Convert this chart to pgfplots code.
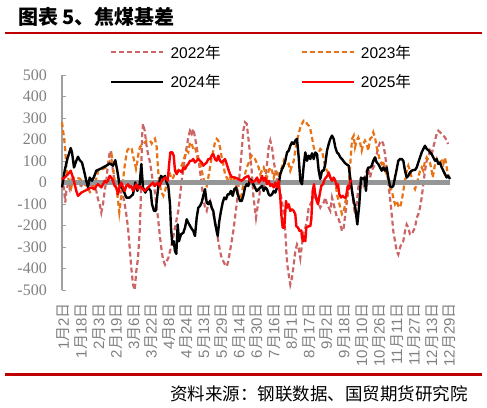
\documentclass[border=0pt]{standalone}
\usepackage{pgfplots}
\pgfplotsset{compat=1.18}
\usepackage{fontspec}
\setmainfont{Liberation Sans}
\newfontfamily\cjk{Noto Sans CJK SC}
\newfontfamily\serifnum{Liberation Serif}
\definecolor{c22}{RGB}{204,102,102}
\definecolor{c23}{RGB}{232,114,20}
\definecolor{titlered}{RGB}{192,0,0}
\definecolor{zgray}{RGB}{150,150,150}
\definecolor{axgray}{RGB}{160,160,160}
\definecolor{labgray}{RGB}{128,128,128}
\newcommand{\md}[2]{#1{\cjk 月}#2{\cjk 日}}
\begin{document}
\begin{tikzpicture}
\path[use as bounding box] (0pt,0pt) rectangle (487pt,-407pt);
\node[anchor=west,inner sep=0pt,font=\cjk\bfseries\fontsize{20}{22}\selectfont] at (18pt,-16.7pt) {图表 5、焦煤基差};
\draw[titlered,line width=2.3pt] (5pt,-33.3pt) -- (482pt,-33.3pt);
\draw[titlered,line width=2.5pt] (5pt,-374.7pt) -- (482pt,-374.7pt);
\node[anchor=east,inner sep=0pt,font=\cjk\fontsize{17.5}{20}\selectfont] at (468pt,-394pt) {资料来源：钢联数据、国贸期货研究院};
\begin{axis}[
  at={(62pt,-290pt)}, anchor=south west,
  scale only axis, width=390pt, height=215pt,
  xmin=62, xmax=452, ymin=-500, ymax=500,
  clip=false,
  axis x line=bottom, axis y line=left,
  x axis line style={draw=none},
  y axis line style={-,draw=axgray,line width=1.2pt},
  xtick={63.70,81.23,98.76,116.29,133.82,151.35,168.88,186.41,203.94,221.47,239.00,256.53,274.06,291.59,309.12,326.65,344.18,361.71,379.24,396.77,414.30,431.83,449.36},
  xticklabels={\md{1}{2},\md{1}{18},\md{2}{3},\md{2}{19},\md{3}{6},\md{3}{22},\md{4}{8},\md{4}{24},\md{5}{13},\md{5}{29},\md{6}{14},\md{6}{30},\md{7}{16},\md{8}{1},\md{8}{17},\md{9}{2},\md{9}{18},\md{10}{10},\md{10}{26},\md{11}{11},\md{11}{27},\md{12}{13},\md{12}{29}},
  xtick style={draw=none},
  xticklabel style={rotate=90,anchor=east,inner sep=0pt,text=labgray,font=\fontsize{15}{17}\selectfont},
  xticklabel shift=13pt,
  ytick={-500,-400,-300,-200,-100,0,100,200,300,400,500},
  yticklabels={-500,-400,-300,-200,-100,0,100,200,300,400,500},
  tick align=inside, major tick length=4pt,
  ytick style={draw=axgray,line width=1pt},
  yticklabel style={anchor=east,inner sep=0pt,text=labgray,font=\serifnum\fontsize{16}{18}\selectfont},
  yticklabel shift=15pt,
  legend columns=2,
  legend cell align=left,
  legend style={at={(0.123,1.140)},anchor=north west,draw=none,fill=none,inner sep=0pt,
    font=\fontsize{15.5}{18}\selectfont,
    nodes={inner sep=0pt},
    /tikz/every odd column/.style={column sep=6pt},
    /tikz/every even column/.style={column sep=80pt},
    row sep=15pt},
  legend image code/.code={\draw[#1] (0pt,0pt) -- (52pt,0pt);},
]
\addplot[c22,line width=2.2pt,dash pattern=on 5pt off 3pt] coordinates {
(62,23)(64,-31)(65.3,-93)(66.3,-39)(68,-8)(69.7,-31)(71.3,8)(73,-16)(76.3,0)(78,-8)(81.3,-16)(84.7,8)(88,-16)(91.3,-8)(94.7,-23)(96.3,-39)(98,-78)(99.7,-101)(101.3,-140)(103,-101)(104.7,-39)(106.3,8)(108,86)(109.7,140)(110.7,148)(112,86)(114,23)(115.3,-16)(117.3,-31)(119.7,-39)(121.3,-47)(123,-62)(124.7,-101)(126.3,-148)(128,-210)(129.7,-304)(131.3,-397)(133,-475)(134.7,-500)(136.3,-413)(138,-351)(139.7,-226)(140.7,-101)(141.3,55)(142,210)(143,273)(144.7,241)(146.3,179)(148,132)(149.7,101)(151.3,55)(153,0)(154.7,-39)(156.3,-101)(158,-164)(159.7,-241)(161.3,-304)(163,-358)(165,-382)(168.3,-351)(171.7,-288)(175,-210)(178.3,-132)(181.7,8)(185,117)(188.3,210)(190,241)(191.7,226)(193.3,249)(195,210)(196.7,164)(198.3,117)(200,55)(201.7,-8)(203.3,-70)(205,-117)(206.7,-132)(208.3,-101)(210,-86)(211.7,-117)(213.3,-148)(215,-179)(216.7,-226)(218.3,-273)(220,-319)(221.7,-351)(225,-382)(226.7,-390)(228.3,-366)(230,-319)(231.7,-273)(233.3,-226)(235,-164)(236.7,-101)(238.3,-23)(240,55)(241.7,148)(243.3,241)(245,280)(246.7,273)(248.3,210)(250,132)(251.7,55)(253.5,-70)(256,-164)(258,-100)(260,-40)(262,-39)(263.7,-23)(265.3,8)(267,86)(268.7,164)(270.3,195)(272,164)(273.7,101)(275.3,55)(277,8)(278.7,-23)(280.3,-47)(282,-86)(283.7,-148)(285.3,-226)(286.3,-319)(287.3,-382)(288.7,-428)(290.3,-475)(292,-444)(293.7,-382)(295.3,-319)(297,-288)(298.7,-304)(300.3,-351)(302,-288)(303.7,-226)(305.3,-210)(307,-179)(308.7,-117)(310.3,-101)(312,-86)(313.7,-70)(315.3,-55)(317,-70)(318.7,-101)(320.3,-117)(322,-101)(323.7,-93)(325.3,-70)(327,-101)(328.7,-117)(330.3,-132)(332,-70)(333.7,-101)(335.3,-132)(337,-164)(338.7,-171)(340.3,-195)(342,-226)(343.7,-210)(345.3,-148)(347,-86)(348.7,-23)(350.3,20)(352,-40)(353.5,-100)(355,-148)(356.7,-101)(358.3,-23)(360,8)(361.7,23)(363.3,-8)(365,23)(366.7,55)(368.3,70)(370,23)(371.7,55)(373.3,70)(375,86)(376.7,132)(378.3,164)(380,187)(381.7,195)(383.3,179)(385,132)(386.7,70)(388.3,-8)(390,-70)(391.7,-148)(393.3,-226)(395,-273)(396.7,-319)(398.3,-335)(400,-304)(401.7,-280)(403.3,-273)(405,-226)(406.7,-195)(408.3,-210)(410,-241)(411.7,-241)(413.3,-226)(415,-210)(416.7,-164)(418.3,-148)(420,-117)(421.7,-70)(423.3,-8)(425,55)(426.7,101)(428.3,117)(430,148)(431.7,132)(433.3,164)(435,195)(436.7,226)(438.3,241)(440,234)(441.7,226)(443.3,218)(445,210)(446.7,195)(448,179)
};
\addlegendentry{2022{\cjk 年}}
\addplot[c23,line width=2.2pt,dash pattern=on 5pt off 3pt] coordinates {
(62,280)(64,210)(65.3,148)(66.3,70)(68,23)(69.7,0)(71.3,-23)(73.3,20)(76,25)(80,17)(83.3,-6)(86.7,-14)(90,-45)(93.3,-37)(96.7,25)(98.3,56)(103.3,64)(106.7,71)(110,103)(111.7,126)(112.7,95)(114,25)(116,-22)(117.7,-69)(119.3,-139)(120.7,-84)(122.7,-22)(124,56)(126,118)(127.3,149)(129.3,162)(131.7,157)(133.3,118)(135,87)(136,64)(137.3,95)(138.7,142)(140,165)(141.7,173)(145,188)(146.7,196)(150,196)(151.7,181)(153.3,196)(155,204)(156.7,164)(157.7,86)(159,8)(161,-39)(163.3,-62)(165,-39)(166.7,-8)(168.3,23)(170,39)(171.7,16)(173.3,23)(175,47)(176.7,55)(178.3,55)(180,70)(181.7,78)(183.3,101)(185,125)(186.7,148)(188.3,140)(190,187)(191.7,179)(193.3,156)(195,164)(196.7,132)(198.3,93)(200,86)(201.7,55)(203.3,23)(205,-8)(206.7,-16)(208.3,23)(210,70)(211.7,117)(213.3,148)(215,187)(216.7,203)(218.3,195)(220,164)(221.7,117)(223.3,86)(225,39)(226.7,23)(228.3,8)(230,23)(231.7,8)(233.3,23)(235,8)(236.7,-23)(238.3,-55)(240,-78)(241.7,-55)(243.3,-8)(245,39)(246.7,70)(248.3,86)(250,109)(251.7,125)(255,109)(258.7,70)(260.3,39)(262,55)(263.7,70)(265.3,47)(267,23)(268.7,55)(270.3,70)(272,55)(273.7,23)(275.3,55)(277,47)(278.7,23)(280.3,55)(282,70)(283.7,101)(285.3,86)(287,78)(288.7,86)(290.3,55)(292,78)(293.7,101)(295.3,148)(297,195)(298.7,226)(300.3,257)(302,273)(303.7,288)(305.3,288)(307,273)(308.7,265)(310.3,249)(312,210)(313.7,164)(315.3,140)(317,125)(318.7,140)(320.3,156)(322,148)(323.7,109)(325.3,70)(327,55)(328.7,39)(330.3,23)(332,16)(333.7,23)(335.3,8)(337,-55)(338.7,-86)(340.3,-117)(342,-148)(343.7,-140)(345.3,-93)(347,-55)(348.7,-8)(350.3,86)(352,203)(353.7,218)(355,164)(356.7,195)(358.3,210)(360,187)(361.7,148)(363.3,179)(365,195)(366.7,179)(368.3,148)(370,203)(371.7,210)(373.3,234)(375,210)(376.7,164)(378.3,132)(380,101)(381.7,86)(383.3,101)(385,55)(386.7,39)(388.3,8)(390,-23)(391.7,-39)(393.3,-70)(395,-101)(396.7,-86)(398.3,-109)(400,-117)(401.7,-86)(403.3,-39)(405,8)(406.7,55)(408.3,78)(410,55)(411.7,23)(413.3,-16)(415,-31)(416.7,-8)(418.3,23)(420,55)(421.7,70)(423.3,55)(425,101)(426.7,117)(428.3,101)(430,93)(431.7,55)(432.7,23)(434,55)(435,86)(436.7,109)(438.3,86)(440,93)(441.7,101)(443.3,86)(445,117)(446.7,70)(448.3,23)
};
\addlegendentry{2023{\cjk 年}}
\addplot[zgray,line width=5pt,forget plot] coordinates {(62,0)(450,0)};
\addplot[black,line width=2.4pt,line join=round] coordinates {
(62,-23)(64.7,55)(67.3,109)(70.7,160)(72,140)(74,70)(76.3,101)(78,120)(79.7,104)(82,93)(84,55)(86.3,8)(88,-23)(89.7,23)(92,8)(94,26)(96.3,55)(99.7,62)(103,70)(106.3,78)(109.7,89)(113,78)(115.3,104)(117.3,55)(119.7,-16)(123,-31)(126.3,-70)(129.7,-70)(133,-55)(135.3,0)(137.3,-39)(139.7,-8)(141.3,86)(143,-23)(145.3,-47)(148,-23)(150.7,-39)(152,-101)(154,-132)(155.7,-132)(157.3,-62)(158.3,-16)(161,31)(163.3,20)(165,31)(166.7,0)(168.3,-16)(170,-101)(171,-210)(172.3,-288)(173.7,-273)(175,-319)(176.3,-332)(177.7,-195)(179,-273)(181,-241)(183.3,-234)(185,-210)(186.7,-171)(188.3,-187)(191,-210)(193.3,-226)(195,-249)(196.7,-164)(198.3,-117)(200,-109)(201.7,-93)(203.3,-62)(205,-31)(206.7,-93)(208.3,-101)(210,-86)(211.7,-117)(213.3,-132)(215,-187)(217.7,-249)(219.3,-179)(221,-132)(222.7,-93)(224.3,-70)(226,-78)(227.7,-55)(229.3,-55)(231,-39)(232.7,-62)(234.3,-31)(236,-23)(237.7,-55)(240,-86)(241.7,-86)(243.3,-62)(245,-23)(246.7,-8)(248.3,-16)(250,16)(251.7,8)(253.3,-8)(255,-23)(256.7,-40)(258.7,-31)(260.3,-23)(262,-16)(263.7,-39)(265.3,-23)(267,-31)(268.7,-55)(270.3,-62)(272,-55)(273.7,-39)(275.3,-47)(277,-23)(278.7,-8)(280.3,39)(282,62)(283.7,78)(285.3,101)(287,140)(288.7,148)(290.3,171)(292,187)(293.7,179)(295.3,195)(297,203)(298.7,117)(300.3,8)(302,-8)(303.7,78)(305.3,140)(307,101)(308.7,125)(310.3,109)(312,136)(313.7,109)(315.3,140)(317,132)(318.7,55)(320.3,16)(322,55)(323.7,55)(325.3,86)(327,148)(328.7,179)(330.3,203)(332,218)(333.7,203)(335.3,164)(337,140)(338.7,132)(340.3,117)(342,109)(343.7,98)(345.3,89)(347,83)(348.7,78)(350.3,16)(352,-39)(353.7,-86)(355.3,-117)(357.3,-195)(359.3,-101)(361,23)(362.7,16)(364.3,23)(366,-39)(367.3,55)(368.3,70)(370,70)(371.7,78)(373.3,101)(375,117)(376.7,93)(378.3,86)(380,70)(381.7,55)(383.3,70)(385,55)(386.7,70)(388.3,23)(390,-16)(391.7,-23)(393.3,-16)(395,23)(396.7,62)(398.3,101)(400,109)(401.7,109)(403.3,101)(405,55)(406.7,23)(408.3,31)(410,47)(411.7,55)(413.3,58)(415,58)(416.7,70)(418.3,93)(420,117)(421.7,140)(423.3,156)(425,171)(426.7,156)(428.3,151)(430,140)(431.7,132)(433.3,117)(435,101)(436.7,109)(438.3,86)(440,93)(441.7,70)(443.3,55)(445,39)(446.7,23)(448.3,31)(450,16)
};
\addlegendentry{2024{\cjk 年}}
\addplot[red,line width=2.4pt,line join=round] coordinates {
(62,16)(64.7,23)(68,39)(70.7,55)(73,23)(74.7,-8)(76.3,-39)(78,-62)(79.7,-55)(81.3,-47)(84.7,-39)(88,-31)(91.3,-23)(94.7,-31)(96.3,-16)(98,-8)(99.7,-16)(101.3,-23)(103,-8)(104.7,8)(106.3,0)(108,8)(109.7,31)(111.3,23)(113,8)(114.7,-16)(116.3,-23)(118,-55)(119.7,-16)(121.3,0)(123,-23)(124.7,-39)(126.3,-16)(128,-8)(129.7,-23)(131.3,-16)(133,-39)(134.7,-23)(136.3,-8)(138,-31)(139.7,-16)(141.3,-23)(143,-31)(144.7,-39)(146.3,-31)(148,-23)(149.7,-16)(151.3,-8)(153,0)(154.7,-16)(156.3,-8)(158,0)(159.7,-16)(161.7,8)(165,23)(167.7,8)(169,78)(170.3,140)(172.3,140)(173.7,125)(175,55)(176.7,39)(178.3,55)(180,55)(181.7,47)(183.3,70)(185,62)(186.7,78)(188.3,86)(190,101)(191.7,101)(193.3,109)(195,93)(196.7,101)(198.3,109)(200,101)(201.7,93)(203.3,78)(205,86)(206.7,93)(208.3,109)(210,109)(211.7,125)(213.3,132)(215,109)(216.7,101)(218.3,125)(220,101)(221.7,93)(223.3,101)(225,109)(226.7,86)(228.3,62)(230,39)(231.7,26)(235,23)(238.3,16)(241.7,8)(245,23)(248.3,31)(250,8)(251.7,0)(255,8)(257,23)(258.7,0)(260.3,8)(262,31)(263.7,8)(265.3,23)(267,-8)(268.7,8)(270.3,-16)(272,-8)(273.7,-23)(275.3,0)(277,-23)(278.7,8)(280.3,-70)(281.3,-148)(282.7,-210)(284.3,-210)(286,-86)(287.3,-117)(288.7,-101)(290.3,-132)(292,-125)(293.7,-132)(295.3,-148)(296.3,-203)(298,-210)(299.7,-226)(301.3,-223)(302,-257)(303,-273)(304,-249)(305.3,-273)(306.3,-210)(308.7,-203)(310.3,-203)(311.3,-171)(312.7,-39)(314,-8)(315.3,-55)(316.7,-86)(318,-101)(319.7,-55)(321.3,-16)(323,-8)(324.7,16)(326,23)(327.3,31)(328.7,47)(330.3,23)(332,8)(333.7,23)(335.3,8)(337,-23)(338,-8)(339.3,-55)(341,-70)(342.7,-62)(344.3,-70)(346,-70)(347.7,-16)(348.7,-31)(350.3,8)(352,8)
};
\addlegendentry{2025{\cjk 年}}
\end{axis}
\end{tikzpicture}
\end{document}
